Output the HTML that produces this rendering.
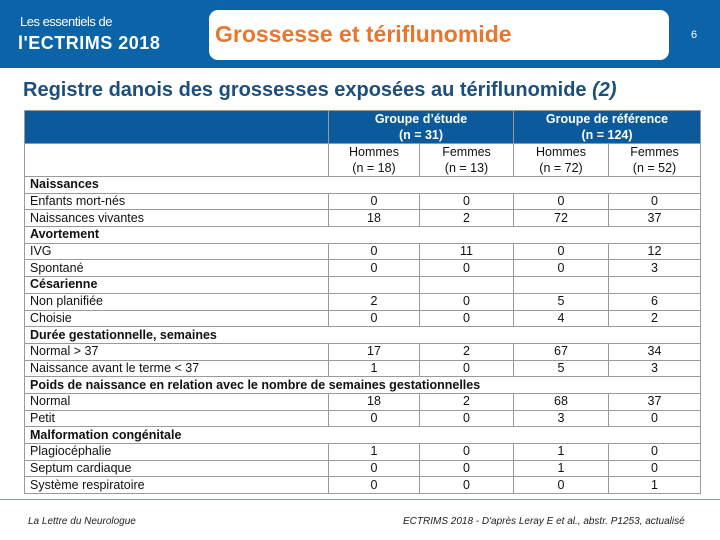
<!DOCTYPE html>
<html><head><meta charset="utf-8"><style>
body{margin:0;width:720px;height:540px;overflow:hidden;background:#fff;font-family:"Liberation Sans",sans-serif;position:relative}
#band{position:absolute;left:0;top:0;width:720px;height:68px;background:#0b63a8}
#brand1{position:absolute;left:20px;top:14px;color:#fff;font-size:13px;letter-spacing:-0.5px}
#brand2{position:absolute;left:18px;top:33px;color:#fff;font-size:18px;font-weight:bold;letter-spacing:0.5px}
#titlebox{position:absolute;left:209px;top:10px;width:460px;height:50px;background:#fff;border-radius:9px}
#title{position:absolute;left:215px;top:21px;color:#e8772e;font-size:23px;font-weight:bold}
#pnum{position:absolute;left:691px;top:29px;color:#fff;font-size:11px}
#sub{position:absolute;left:23px;top:79px;color:#1b4f7e;font-size:20px;font-weight:bold;letter-spacing:0}
table{position:absolute;left:24px;top:110px;border-collapse:collapse;table-layout:fixed;font-size:12.5px;color:#111}
td{border:1px solid #9a9a9a;padding:0 0 0 5px;height:15.7px;line-height:15px;white-space:nowrap;overflow:visible}
td.n{text-align:center;padding:0}
tr.hd td{background:#0b5a9c;color:#fff;font-weight:bold;text-align:center;height:32px;line-height:16px;padding:0}
tr.h2 td{height:32px;line-height:16px;text-align:center;padding:0}
tr.sec td{font-weight:bold}
#rule{position:absolute;left:0;top:499px;width:720px;height:1px;background:#8a9aaa}
#f1{position:absolute;left:28px;top:516px;font-size:10px;font-style:italic;color:#222}
#f2{position:absolute;left:403px;top:516px;font-size:10px;font-style:italic;color:#222}
</style></head><body>
<div id="band"></div>
<div id="brand1">Les essentiels de</div>
<div id="brand2">l'ECTRIMS 2018</div>
<div id="titlebox"></div>
<div id="title">Grossesse et tériflunomide</div>
<div id="pnum">6</div>
<div id="sub">Registre danois des grossesses exposées au tériflunomide <i>(2)</i></div>
<table>
<colgroup><col style="width:304px"><col style="width:91px"><col style="width:94px"><col style="width:95px"><col style="width:92px"></colgroup>
<tr class="hd"><td></td><td colspan="2">Groupe d’étude<br>(n = 31)</td><td colspan="2">Groupe de référence<br>(n = 124)</td></tr>
<tr class="h2"><td></td><td>Hommes<br>(n = 18)</td><td>Femmes<br>(n = 13)</td><td>Hommes<br>(n = 72)</td><td>Femmes<br>(n = 52)</td></tr>
<tr class="sec"><td colspan="5">Naissances</td></tr>
<tr><td>Enfants mort-nés</td><td class="n">0</td><td class="n">0</td><td class="n">0</td><td class="n">0</td></tr>
<tr><td>Naissances vivantes</td><td class="n">18</td><td class="n">2</td><td class="n">72</td><td class="n">37</td></tr>
<tr class="sec"><td colspan="5">Avortement</td></tr>
<tr><td>IVG</td><td class="n">0</td><td class="n">11</td><td class="n">0</td><td class="n">12</td></tr>
<tr><td>Spontané</td><td class="n">0</td><td class="n">0</td><td class="n">0</td><td class="n">3</td></tr>
<tr class="sec"><td>Césarienne</td><td></td><td></td><td></td><td></td></tr>
<tr><td>Non planifiée</td><td class="n">2</td><td class="n">0</td><td class="n">5</td><td class="n">6</td></tr>
<tr><td>Choisie</td><td class="n">0</td><td class="n">0</td><td class="n">4</td><td class="n">2</td></tr>
<tr class="sec"><td colspan="5">Durée gestationnelle, semaines</td></tr>
<tr><td>Normal &gt; 37</td><td class="n">17</td><td class="n">2</td><td class="n">67</td><td class="n">34</td></tr>
<tr><td>Naissance avant le terme &lt; 37</td><td class="n">1</td><td class="n">0</td><td class="n">5</td><td class="n">3</td></tr>
<tr class="sec"><td colspan="5">Poids de naissance en relation avec le nombre de semaines gestationnelles</td></tr>
<tr><td>Normal</td><td class="n">18</td><td class="n">2</td><td class="n">68</td><td class="n">37</td></tr>
<tr><td>Petit</td><td class="n">0</td><td class="n">0</td><td class="n">3</td><td class="n">0</td></tr>
<tr class="sec"><td colspan="5">Malformation congénitale</td></tr>
<tr><td>Plagiocéphalie</td><td class="n">1</td><td class="n">0</td><td class="n">1</td><td class="n">0</td></tr>
<tr><td>Septum cardiaque</td><td class="n">0</td><td class="n">0</td><td class="n">1</td><td class="n">0</td></tr>
<tr><td>Système respiratoire</td><td class="n">0</td><td class="n">0</td><td class="n">0</td><td class="n">1</td></tr>
</table>
<div id="rule"></div>
<div id="f1">La Lettre du Neurologue</div>
<div id="f2">ECTRIMS 2018 - D'après Leray E et al., abstr. P1253, actualisé</div>
</body></html>
